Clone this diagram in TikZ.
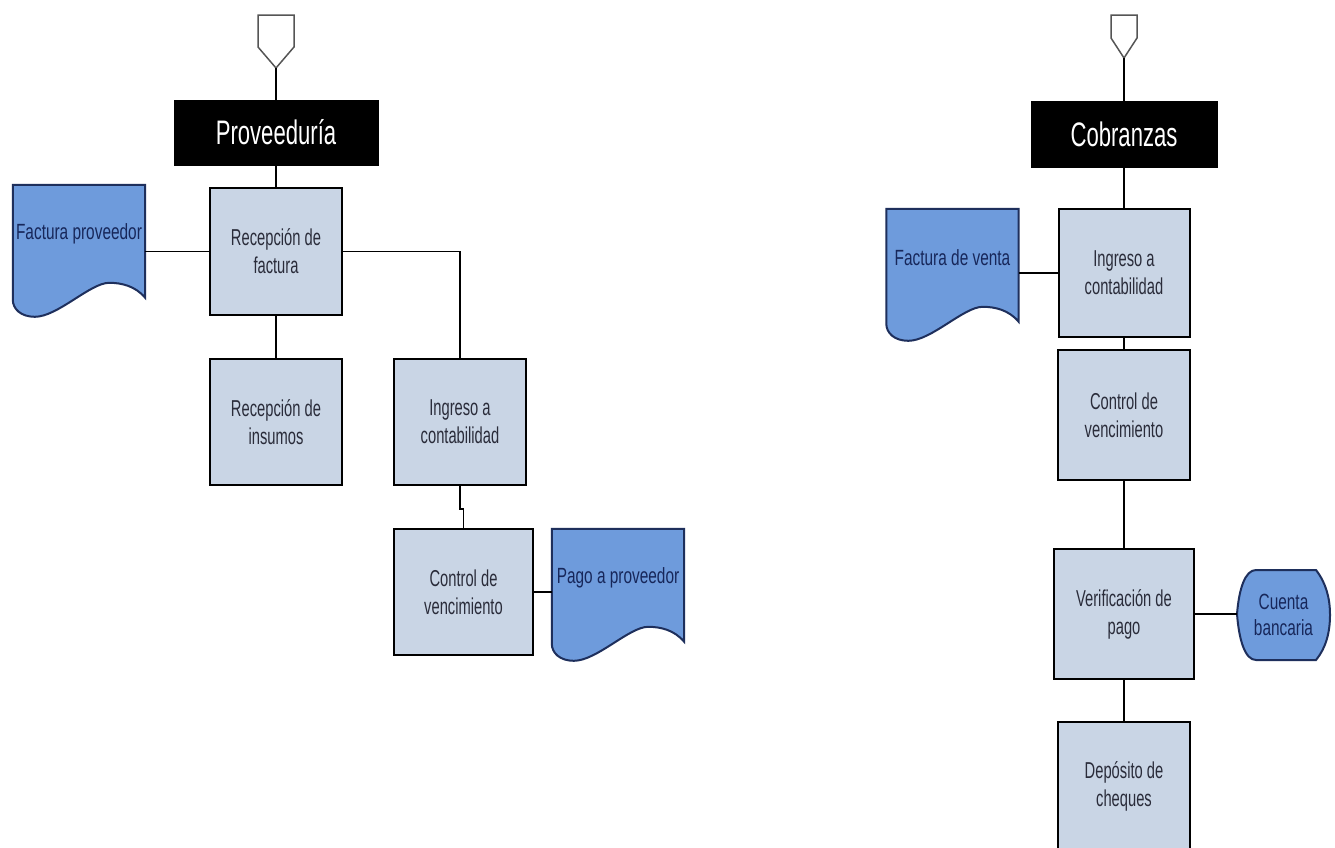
\documentclass[tikz,border=0pt]{standalone}
\usepackage{fontspec}
\setmainfont{Liberation Sans}
\newfontfamily\boxfont[FakeStretch=0.64]{Liberation Sans}
\newfontfamily\docfont[FakeStretch=0.7]{Liberation Sans}
\newfontfamily\titlefont[FakeStretch=0.65]{Liberation Sans}
\usetikzlibrary{calc,backgrounds}
\definecolor{boxfill}{HTML}{C9D5E5}
\definecolor{docfill}{HTML}{6E9BDC}
\definecolor{docline}{HTML}{1E2F5C}
\definecolor{boxtext}{HTML}{2A2C3A}
\definecolor{doctext}{HTML}{17275A}
\definecolor{pentline}{HTML}{555555}
\tikzset{
  proc/.style={draw=black, line width=2, fill=boxfill, align=center, inner sep=0,
    font=\boxfont\fontsize{23}{28}\selectfont, text=boxtext},
  title/.style={draw=black, fill=black, text=white, inner sep=0,
    font=\titlefont\fontsize{34}{40}\selectfont},
  docnode/.style={inner sep=0, minimum width=132, minimum height=98, align=center,
    font=\docfont\fontsize{22}{28}\selectfont, text=doctext},
  docshape/.style={draw=docline, line width=2, fill=docfill},
  conn/.style={draw=black, line width=1.6},
  pent/.style={draw=pentline, line width=1.5, fill=white, line join=miter}
}
\newcommand\docdraw[1]{%
  \path[docshape] (#1.north west) -- (#1.north east) -- ($(#1.north east)+(0,113)$)
    .. controls ($(#1.north east)+(-10,101)$) and ($(#1.north east)+(-24,98)$) .. ($(#1.north east)+(-36,98)$)
    .. controls ($(#1.north east)+(-55,98)$) and ($(#1.north west)+(45,132)$) .. ($(#1.north west)+(22,132)$)
    .. controls ($(#1.north west)+(8,132)$) and ($(#1.north west)+(0,124)$) .. ($(#1.north west)+(0,115)$)
    -- cycle;}
\begin{document}
\begin{tikzpicture}[x=1pt,y=-1pt]
\useasboundingbox (0,0) rectangle (1335,847);

% ---------- left: Proveeduria ----------
\path[pent] (258,15) -- (294,15) -- (294,47) -- (276,68) -- (258,47) -- cycle;
\coordinate (ltip) at (276,68);
\node[title, minimum width=204, minimum height=65] (prov) at (276,132.5) {Proveeduría};
\node[proc, minimum width=132, minimum height=127] (rf) at (276,251.5) {Recepción de\\factura};
\node[proc, minimum width=132, minimum height=126] (ri) at (276,422) {Recepción de\\insumos};
\node[proc, minimum width=132, minimum height=126] (ic) at (460,422) {Ingreso a\\contabilidad};
\node[proc, minimum width=139, minimum height=126] (cv) at (463.5,592) {Control de\\vencimiento};
\node[docnode] (fp) at (79,234) {Factura proveedor};
\node[docnode] (pago) at (618,578) {Pago a proveedor};
\draw[conn] (ltip) -- (prov.north);
\draw[conn] (prov.south) -- (rf.north);
\draw[conn] (rf.west) -- (rf.west -| fp.east);
\draw[conn] (rf.east) -| (ic.north);
\draw[conn] (rf.south) -- (ri.north);
\draw[conn] (ic.south) -- ++(0,23) -| (cv.north);
\draw[conn] (cv.east) -- (cv.east -| pago.west);

% ---------- right: Cobranzas ----------
\path[pent] (1111,15) -- (1137,15) -- (1137,38) -- (1124,58) -- (1111,38) -- cycle;
\coordinate (rtip) at (1124,58);
\node[title, minimum width=186, minimum height=66] (cob) at (1124,134) {Cobranzas};
\node[proc, minimum width=131, minimum height=128] (ia2) at (1124,273) {Ingreso a\\contabilidad};
\node[proc, minimum width=132, minimum height=130] (cv2) at (1124,415) {Control de\\vencimiento};
\node[proc, minimum width=140, minimum height=130] (vp) at (1124,614) {Verificación de\\pago};
\node[proc, minimum width=132, minimum height=128] (dc) at (1124,786) {Depósito de\\cheques};
\node[docnode] (fv) at (952.5,258) {Factura de venta};
\node[inner sep=0, minimum width=93, minimum height=90, align=center,
  font=\docfont\fontsize{22}{26}\selectfont, text=doctext] (cb) at (1283.5,615) {Cuenta\\bancaria};
\draw[conn] (rtip) -- (cob.north);
\draw[conn] (cob.south) -- (ia2.north);
\draw[conn] (ia2.west) -- (ia2.west -| fv.east);
\draw[conn] (ia2.south) -- (cv2.north);
\draw[conn] (cv2.south) -- (vp.north);
\draw[conn] (vp.east) -- (vp.east -| cb.west);
\draw[conn] (vp.south) -- (dc.north);

\begin{pgfonlayer}{background}
  \fill[white] (0,0) rectangle (1335,847);
  \docdraw{fp}
  \docdraw{pago}
  \docdraw{fv}
  \path[docshape] (1237,614) .. controls (1239,589) and (1245,570) .. (1256,570) -- (1316,570)
    .. controls (1326,583) and (1330,598) .. (1330,615)
    .. controls (1330,632) and (1326,648) .. (1316,660) -- (1256,660)
    .. controls (1245,660) and (1239,640) .. (1237,614) -- cycle;
\end{pgfonlayer}
\end{tikzpicture}
\end{document}
